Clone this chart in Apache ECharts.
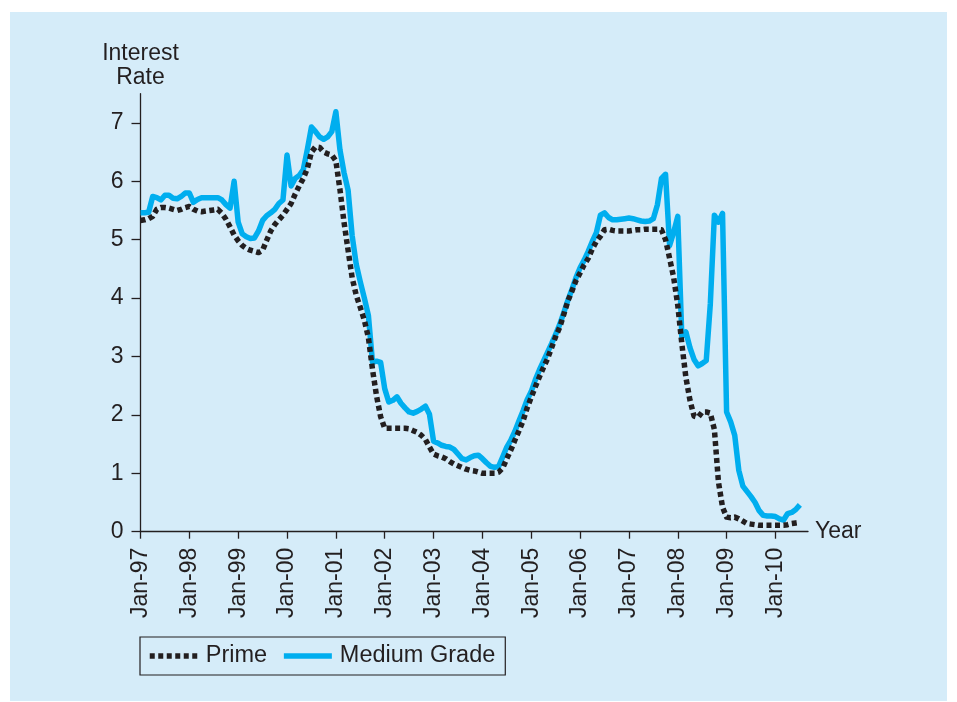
<!DOCTYPE html>
<html>
<head>
<meta charset="utf-8">
<script src="https://cdn.jsdelivr.net/npm/echarts@6/dist/echarts.min.js"></script>
<style>
html,body{margin:0;padding:0;background:#ffffff;}
#c{width:957px;height:702px;}
</style>
</head>
<body>
<div id="c"></div>
<script>
// Monthly series starting Jan-97 (index 0 = Jan-97)
var tickLabels = ['Jan-97','Jan-98','Jan-99','Jan-00','Jan-01','Jan-02','Jan-03','Jan-04','Jan-05','Jan-06','Jan-07','Jan-08','Jan-09','Jan-10'];
var seriesNames = ['Prime', 'Medium Grade'];
var prime = [
5.33,5.34,5.36,5.40,5.52,5.55,5.55,5.54,5.52,5.50,5.52,5.55,5.57,
5.52,5.49,5.48,5.49,5.50,5.51,5.52,5.45,5.35,5.22,5.08,4.98,
4.90,4.85,4.82,4.80,4.78,4.82,4.99,5.15,5.26,5.34,5.42,5.52,
5.62,5.78,5.92,6.05,6.22,6.50,6.59,6.58,6.50,6.47,6.45,6.35,
5.86,5.30,4.82,4.35,4.05,3.84,3.62,3.32,2.78,2.32,1.97,1.77,
1.77,1.77,1.77,1.77,1.77,1.76,1.73,1.70,1.65,1.58,1.45,1.33,
1.30,1.28,1.25,1.20,1.16,1.13,1.10,1.07,1.05,1.04,1.02,1.00,
1.00,1.00,1.00,1.02,1.09,1.25,1.40,1.57,1.73,1.90,2.12,2.30,
2.48,2.65,2.81,2.96,3.15,3.34,3.50,3.72,3.95,4.12,4.30,4.43,
4.57,4.68,4.84,4.97,5.06,5.17,5.18,5.16,5.15,5.15,5.15,5.15,
5.16,5.17,5.17,5.18,5.18,5.18,5.18,5.17,5.00,4.68,4.35,3.88,
3.22,2.64,2.25,1.98,1.96,2.05,2.05,2.03,1.75,0.85,0.42,0.25,
0.24,0.25,0.22,0.18,0.14,0.13,0.12,0.11,0.11,0.11,0.11,0.11,
0.11,0.11,0.12,0.14,0.15,0.16
];
var medium = [
5.46,5.46,5.47,5.74,5.72,5.68,5.76,5.76,5.71,5.70,5.74,5.80,5.80,
5.64,5.69,5.72,5.72,5.72,5.72,5.72,5.68,5.60,5.54,6.00,5.30,
5.10,5.05,5.02,5.03,5.15,5.33,5.41,5.46,5.52,5.62,5.68,6.45,
5.92,6.05,6.10,6.20,6.55,6.93,6.85,6.76,6.72,6.76,6.85,7.19,
6.54,6.15,5.85,5.07,4.58,4.28,4.00,3.70,2.90,2.92,2.90,2.45,
2.22,2.25,2.31,2.20,2.12,2.05,2.03,2.06,2.10,2.15,2.01,1.55,
1.52,1.48,1.46,1.45,1.41,1.33,1.25,1.23,1.27,1.30,1.31,1.25,
1.18,1.12,1.10,1.12,1.28,1.45,1.57,1.72,1.90,2.07,2.26,2.40,
2.60,2.77,2.92,3.07,3.22,3.38,3.55,3.75,3.96,4.15,4.35,4.52,
4.65,4.80,4.97,5.12,5.42,5.46,5.38,5.34,5.34,5.35,5.36,5.37,
5.36,5.34,5.32,5.31,5.32,5.36,5.60,6.05,6.12,4.90,5.13,5.40,
3.34,3.42,3.15,2.95,2.84,2.88,2.93,3.90,5.42,5.30,5.45,2.05,
1.88,1.65,1.05,0.78,0.69,0.60,0.50,0.36,0.28,0.27,0.27,0.26,
0.22,0.20,0.31,0.33,0.38,0.46
];
var yTicks = [0,1,2,3,4,5,6,7];

var xTicks = tickLabels.map(function(_, i){ return i * 12; });
function toPairs(arr){ return arr.map(function(v, i){ return [i, v]; }); }

var TXT = '#231f20';
var BLUE = '#00aeef';
var FONT = 'Liberation Sans, Arial, Helvetica, sans-serif';
var primeLine = {color: TXT, width: 5.5, type: [5, 3.5], cap: 'butt', join: 'round'};
var mediumLine = {color: BLUE, width: 5.5, type: 'solid', join: 'round'};
var chart = echarts.init(document.getElementById('c'), null, {renderer:'canvas'});
chart.setOption({
  backgroundColor: '#ffffff',
  animation: false,
  textStyle: {fontFamily: FONT},
  graphic: [{
    type: 'rect', z: -10, silent: true,
    shape: {x: 10, y: 12, width: 937, height: 689},
    style: {fill: '#d5ecf9'}
  }],
  grid: {left: 140.5, top: 93.7, right: 149, bottom: 170.3, containLabel: false, outerBoundsMode: 'none'},
  legend: {
    left: 140, top: 637,
    orient: 'horizontal',
    padding: [7, 10, 7, 7],
    itemGap: 14,
    itemWidth: 48, itemHeight: 14,
    borderColor: TXT, borderWidth: 1.2,
    itemStyle: {opacity: 0},
    textStyle: {fontSize: 23.5, color: TXT, fontFamily: FONT, padding: [0,0,0,3]},
    data: [
      {name: seriesNames[0], itemStyle: {opacity: 0}, lineStyle: primeLine},
      {name: seriesNames[1], itemStyle: {opacity: 0}, lineStyle: mediumLine}
    ]
  },
  xAxis: {
    type: 'value', min: 0, max: 164, interval: 12,
    name: 'Year', nameLocation: 'end', nameGap: 7,
    nameTextStyle: {fontSize: 23, color: TXT, fontFamily: FONT, verticalAlign: 'middle', align: 'left'},
    axisLine: {show: true, lineStyle: {color: TXT, width: 1.3}},
    axisTick: {show: true, length: 7, customValues: xTicks, lineStyle: {color: TXT, width: 1.3}},
    axisLabel: {
      customValues: xTicks, rotate: 90, margin: 16, fontSize: 23, color: TXT, fontFamily: FONT,
      formatter: function(v){ return tickLabels[Math.round(v/12)]; }
    },
    splitLine: {show: false}
  },
  yAxis: {
    type: 'value', min: 0, max: 7.5, interval: 1,
    name: 'Interest\nRate', nameLocation: 'end', nameGap: 4,
    nameTextStyle: {fontSize: 23, lineHeight: 24, color: TXT, fontFamily: FONT, align: 'center', verticalAlign: 'bottom'},
    axisLine: {show: true, lineStyle: {color: TXT, width: 1.3}},
    axisTick: {show: true, length: 9, customValues: yTicks, lineStyle: {color: TXT, width: 1.3}},
    axisLabel: {customValues: yTicks, margin: 17, fontSize: 23, color: TXT, fontFamily: FONT},
    splitLine: {show: false}
  },
  series: [
    {
      name: seriesNames[0], type: 'line', data: toPairs(prime),
      symbol: 'none', smooth: false, z: 3,
      itemStyle: {color: TXT},
      lineStyle: primeLine
    },
    {
      name: seriesNames[1], type: 'line', data: toPairs(medium),
      symbol: 'none', smooth: false, z: 2,
      itemStyle: {color: BLUE},
      lineStyle: mediumLine
    }
  ]
});
</script>
</body>
</html>
